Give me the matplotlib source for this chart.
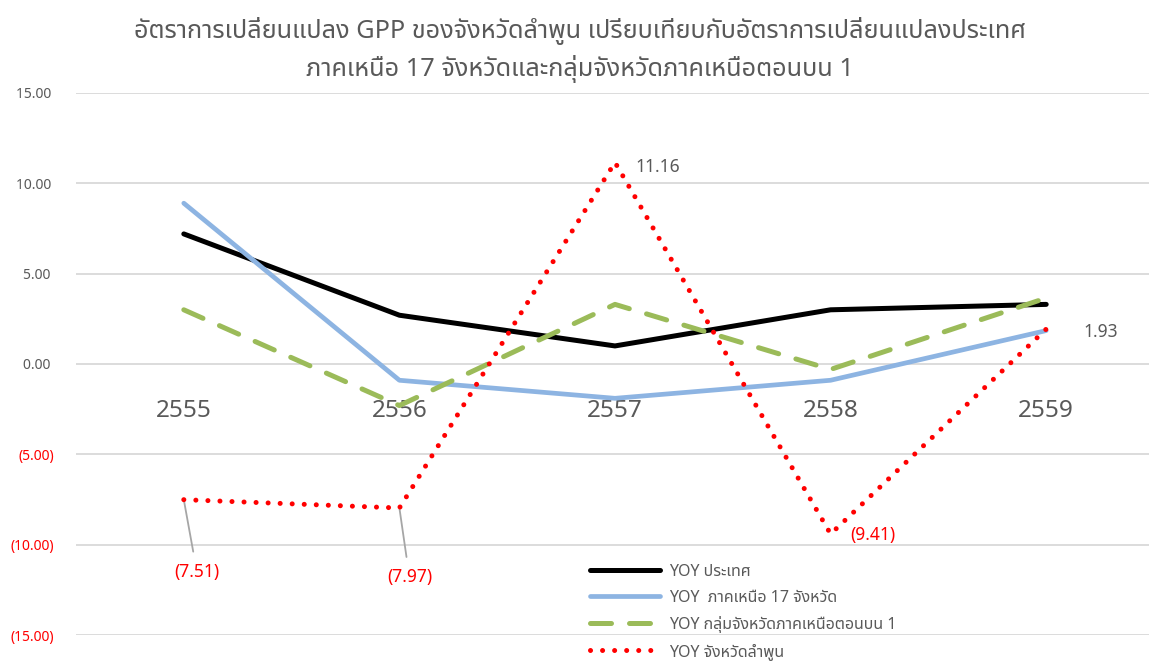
import matplotlib
matplotlib.use('Agg')
import matplotlib.pyplot as plt
from matplotlib.ticker import FixedLocator

plt.rcParams['font.family'] = ['Noto Sans', 'Noto Sans Thai']

years = ['2555', '2556', '2557', '2558', '2559']
yoy_country = [7.2, 2.7, 1.0, 3.0, 3.3]
yoy_north17 = [8.9, -0.9, -1.9, -0.9, 1.85]
yoy_upper_north1 = [3.0, -2.3, 3.3, -0.3, 3.65]
yoy_lamphun = [-7.51, -7.97, 11.16, -9.41, 1.93]

labels = ['YOY ประเทศ', 'YOY  ภาคเหนือ 17 จังหวัด',
          'YOY กลุ่มจังหวัดภาคเหนือตอนบน 1', 'YOY จังหวัดลำพูน']
title = ('อัตราการเปลี่ยนแปลง GPP ของจังหวัดลำพูน เปรียบเทียบกับอัตราการเปลี่ยนแปลงประเทศ\n'
         'ภาคเหนือ 17 จังหวัดและกลุ่มจังหวัดภาคเหนือตอนบน 1')
yticks = [15, 10, 5, 0, -5, -10, -15]

grey = '#595959'
fig = plt.figure(figsize=(11.49, 6.61), dpi=100)
ax = fig.add_axes([76/1149, 1-635/661, (1154-76)/1149, (635-93)/661])

x = list(range(len(years)))
ax.plot(x, yoy_country, color='black', lw=3.6, solid_capstyle='round', solid_joinstyle='round', label=labels[0], zorder=3)
ax.plot(x, yoy_north17, color='#8DB4E2', lw=3.4, solid_capstyle='round', solid_joinstyle='round', label=labels[1], zorder=4)
ax.plot(x, yoy_upper_north1, color='#9BBB59', lw=3.6, dashes=(4.2, 3.6), dash_capstyle='round', label=labels[2], zorder=5)
ax.plot(x, yoy_lamphun, color='#FF0000', lw=3.6, dashes=(0.01, 2.4), dash_capstyle='round', label=labels[3], zorder=6)

ax.set_xlim(-0.5, 4.5)
ax.set_ylim(-15, 15)
ax.yaxis.set_major_locator(FixedLocator(yticks))
ax.set_yticklabels([f'{v:.2f} ' if v >= 0 else f'({abs(v):.2f})' for v in yticks])
for t, v in zip(ax.get_yticklabels(), yticks):
    t.set_color(grey if v >= 0 else '#FF0000')
ax.tick_params(axis='y', length=0, pad=15.5, labelsize=10)
ax.grid(axis='y', color='#D9D9D9', lw=1.3, zorder=0)
ax.set_axisbelow(True)
for s in ax.spines.values():
    s.set_visible(False)
ax.spines['bottom'].set_position(('data', 0))
ax.set_xticks(x)
ax.set_xticklabels(years)
ax.tick_params(axis='x', length=0, pad=25, labelsize=17.5, labelcolor=grey)

# data labels for Lamphun
offs = [(9.4, -51.8), (7.2, -49.7), (31, -3.6), (30.2, -0.7), (39, -2)]
cols = ['#FF0000', '#FF0000', grey, '#FF0000', grey]
for i, (v, o, c) in enumerate(zip(yoy_lamphun, offs, cols)):
    txt = f'{v:.2f}' if v >= 0 else f'({abs(v):.2f})'
    if i < 2:
        ax.annotate(txt, xy=(i, v), xytext=o, textcoords='offset points', ha='center', va='center',
                    color=c, fontsize=12.5,
                    arrowprops=dict(arrowstyle='-', color='#A6A6A6', lw=1.3, shrinkA=6, shrinkB=1))
    else:
        ax.annotate(txt, xy=(i, v), xytext=o, textcoords='offset points', ha='center', va='center',
                    color=c, fontsize=12.5)

fig.text(0.505, 1-50/661, title, ha='center', va='center', fontsize=18.2, color=grey, linespacing=1.45)

leg = ax.legend(loc='upper left', bbox_to_anchor=(590/1149, 1-564/661), bbox_transform=fig.transFigure,
                frameon=False, fontsize=11.5, handlelength=4.4, handletextpad=0.55, labelspacing=0.62,
                borderaxespad=0, borderpad=0)
for t in leg.get_texts():
    t.set_color(grey)

fig.savefig('out.png', dpi=100)
